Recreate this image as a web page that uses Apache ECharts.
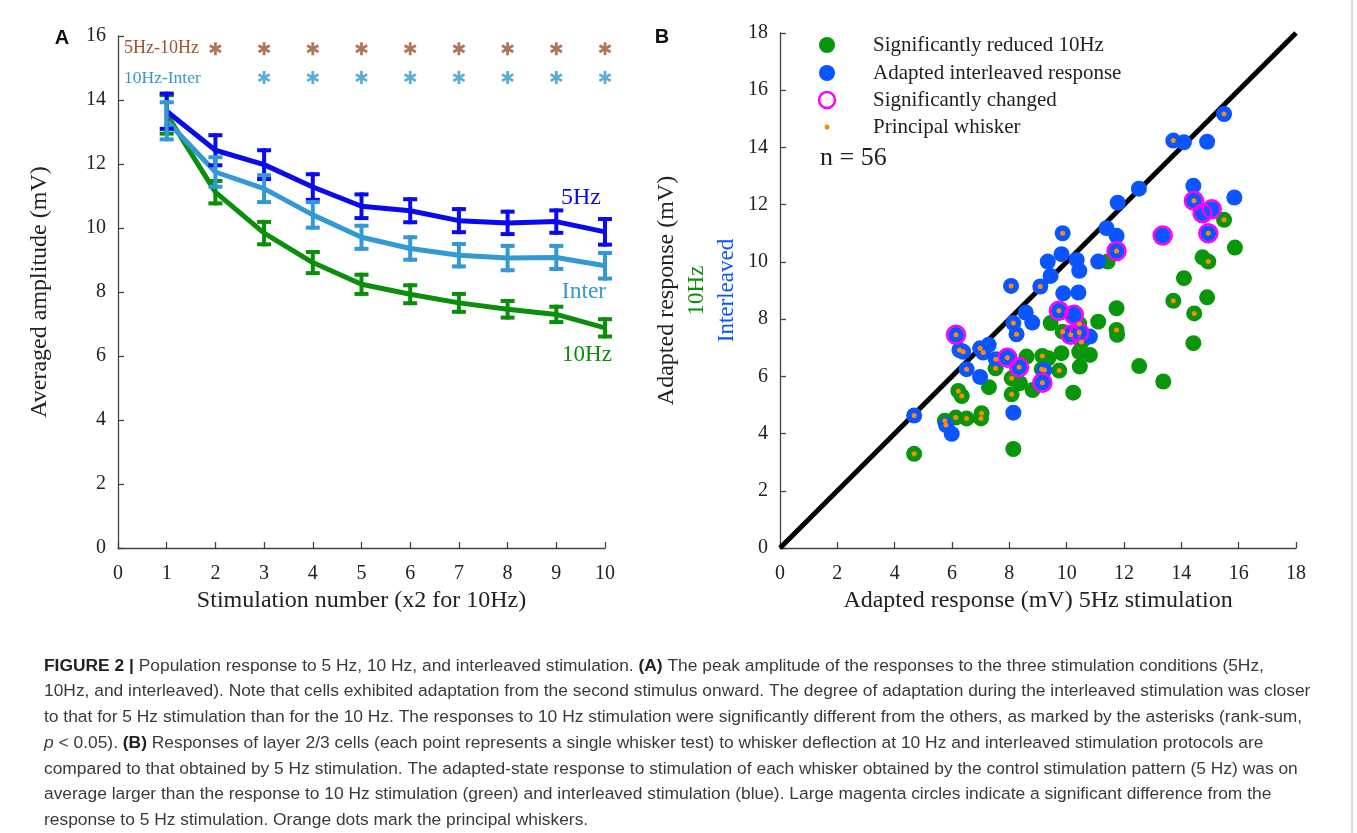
<!DOCTYPE html>
<html>
<head>
<meta charset="utf-8">
<script src="https://cdn.jsdelivr.net/npm/echarts@6/dist/echarts.min.js"></script>
<style>
  html, body { margin: 0; padding: 0; background: #fff; }
  #chart { width: 1357px; height: 833px; }
</style>
</head>
<body>
<div id="chart"></div>
<script>
// panel A: averaged amplitude per stimulus
const stimNumbers = [1, 2, 3, 4, 5, 6, 7, 8, 9, 10]
const amp5Hz = [13.65, 12.43, 11.98, 11.28, 10.68, 10.54, 10.23, 10.16, 10.2, 9.88]
const err5Hz = [0.55, 0.47, 0.45, 0.4, 0.37, 0.36, 0.36, 0.35, 0.35, 0.4]
const ampInter = [13.35, 11.75, 11.23, 10.41, 9.71, 9.36, 9.15, 9.06, 9.08, 8.82]
const errInter = [0.58, 0.46, 0.42, 0.4, 0.36, 0.35, 0.35, 0.38, 0.36, 0.4]
const amp10Hz = [13.55, 11.12, 9.84, 8.92, 8.24, 7.93, 7.66, 7.46, 7.3, 6.88]
const err10Hz = [0.6, 0.35, 0.35, 0.33, 0.3, 0.28, 0.28, 0.26, 0.24, 0.27]
// significance asterisks (stimulus numbers)
const sig5vs10 = [2, 3, 4, 5, 6, 7, 8, 9, 10]
const sig10vsInter = [3, 4, 5, 6, 7, 8, 9, 10]

// panel B: [5Hz response, 10Hz response, principal]
const reduced10Hz = [
  [4.68, 3.29, 1], [5.75, 4.45, 1], [6.13, 4.56, 1], [6.51, 4.53, 1], [7.03, 4.71, 1],
  [7.01, 4.53, 1], [6.22, 5.49, 1], [6.34, 5.31, 1], [7.29, 5.62, 0], [7.52, 6.28, 1],
  [8.14, 3.46, 0], [8.08, 5.93, 1], [8.37, 5.76, 0], [8.81, 5.52, 0], [8.08, 5.37, 1],
  [8.6, 6.69, 0], [9.15, 6.71, 1], [9.36, 6.63, 0], [9.82, 6.81, 0], [9.74, 6.2, 1],
  [9.13, 6.25, 1], [10.44, 6.86, 0], [10.81, 6.75, 0], [10.46, 6.34, 0], [10.23, 5.43, 0],
  [9.44, 7.86, 0], [9.86, 7.56, 1], [10.44, 7.83, 1], [11.1, 7.91, 0], [11.74, 8.38, 0],
  [11.74, 7.62, 1], [11.76, 7.45, 0], [11.43, 10.01, 0], [12.53, 6.36, 0], [13.37, 5.82, 0],
  [13.72, 8.64, 1], [14.09, 9.43, 0], [14.9, 8.76, 0], [14.45, 8.2, 1], [14.42, 7.16, 0],
  [14.74, 10.16, 0], [14.94, 10.01, 1], [15.49, 11.47, 1], [15.87, 10.5, 0], [10.52, 7.2, 1]
]
// [5Hz response, interleaved response, principal, significantly changed]
const interleavedResp = [
  [4.68, 4.63, 1, 0], [5.79, 4.3, 1, 0], [5.99, 3.99, 0, 0], [6.14, 7.45, 1, 1], [6.26, 6.92, 1, 0],
  [6.39, 6.86, 1, 0], [6.51, 6.25, 1, 0], [6.98, 6.98, 1, 0], [7.28, 7.1, 0, 0], [7.09, 6.83, 1, 0],
  [6.98, 5.98, 0, 0], [7.53, 6.6, 1, 0], [7.93, 6.65, 1, 1], [8.34, 6.32, 1, 1], [8.14, 4.73, 0, 0],
  [8.06, 9.16, 1, 0], [8.14, 7.86, 1, 0], [8.25, 7.47, 1, 0], [8.57, 8.23, 0, 0], [8.8, 7.88, 0, 0],
  [9.08, 9.14, 1, 0], [9.88, 8.9, 0, 0], [10.41, 8.93, 0, 0], [9.73, 8.29, 1, 1], [10.25, 8.15, 0, 1],
  [9.22, 6.22, 1, 0], [9.15, 5.78, 1, 1], [10.14, 7.45, 1, 1], [10.44, 7.53, 1, 1], [10.81, 7.39, 0, 0],
  [9.44, 9.51, 0, 0], [9.34, 10.01, 0, 0], [9.82, 10.27, 0, 0], [9.86, 11.0, 1, 0], [10.35, 10.07, 0, 0],
  [10.44, 9.69, 0, 0], [11.1, 10.01, 0, 0], [11.39, 11.18, 0, 0], [11.74, 10.91, 0, 0], [11.74, 10.38, 1, 1],
  [11.78, 12.07, 0, 0], [12.52, 12.56, 0, 0], [13.35, 10.92, 0, 1], [13.72, 14.24, 1, 0], [14.09, 14.18, 0, 0],
  [14.9, 14.2, 0, 0], [15.49, 15.17, 1, 0], [14.42, 12.66, 0, 0], [15.85, 12.25, 0, 0], [14.44, 12.14, 1, 1],
  [14.74, 11.7, 0, 1], [15.06, 11.84, 0, 1], [14.94, 11.0, 1, 1]
]
const identityLine = [[0, 0], [18, 18]]

const serif = 'Liberation Serif'
const c5Hz = '#0a0aee', cInter = '#3399d4', c10Hz = '#0a8f0a'
const cGreen = '#0a960a', cBlue = '#0a55ff', cRing = '#ff00ff', cOrange = '#ff8c00'
const brown = '#a0522d', starBlue = '#3399cc'

const chart = echarts.init(document.getElementById('chart'))

// 误差棒
function errorBars(means, errs, color) {
  return {
    type: 'custom', xAxisIndex: 0, yAxisIndex: 0, z: 4,
    data: stimNumbers.map((x, i) => [x, means[i], errs[i]]),
    encode: { x: 0, y: 1 },
    renderItem(params, api) {
      const x = api.value(0), m = api.value(1), e = api.value(2)
      const hi = api.coord([x, m + e]), lo = api.coord([x, m - e])
      const w = 7
      const st = () => ({ stroke: color, lineWidth: 4 })
      return {
        type: 'group', children: [
          { type: 'line', shape: { x1: hi[0], y1: hi[1] - 2, x2: lo[0], y2: lo[1] + 2 }, style: st() },
          { type: 'line', shape: { x1: hi[0] - w, y1: hi[1], x2: hi[0] + w, y2: hi[1] }, style: st() },
          { type: 'line', shape: { x1: lo[0] - w, y1: lo[1], x2: lo[0] + w, y2: lo[1] }, style: st() }
        ]
      }
    }
  }
}

function meanLine(means, color) {
  return {
    type: 'line', xAxisIndex: 0, yAxisIndex: 0, z: 3,
    data: stimNumbers.map((x, i) => [x, means[i]]),
    showSymbol: false, symbol: 'none',
    lineStyle: { color, width: 5 }
  }
}

const asterisk = 'path://M10,0 L10,20 M1.34,5 L18.66,15 M1.34,15 L18.66,5'
function stars(xs, level, color) {
  return {
    type: 'scatter', xAxisIndex: 0, yAxisIndex: 0,
    data: xs.map(x => [x, level]),
    symbol: asterisk, symbolSize: 13, symbolKeepAspect: true,
    itemStyle: { color: 'transparent', borderColor: color, borderWidth: 2.8 }
  }
}

const axisCommon = {
  axisLine: { lineStyle: { color: '#444', width: 1.3 } },
  axisTick: { inside: true, length: 6, lineStyle: { color: '#444', width: 1.3 } },
  splitLine: { show: false },
  axisLabel: { fontFamily: serif, fontSize: 20, color: '#222' }
}
const nameStyle = { fontFamily: serif, fontSize: 24, color: '#222' }

const legendRows = [
  { y: 45, text: 'Significantly reduced 10Hz' },
  { y: 73, text: 'Adapted interleaved response' },
  { y: 100, text: 'Significantly changed' },
  { y: 127, text: 'Principal whisker' }
]

const captionLines = [
  '{b|FIGURE 2 |} Population response to 5 Hz, 10 Hz, and interleaved stimulation. {b|(A)} The peak amplitude of the responses to the three stimulation conditions (5Hz,',
  '10Hz, and interleaved). Note that cells exhibited adaptation from the second stimulus onward. The degree of adaptation during the interleaved stimulation was closer',
  'to that for 5 Hz stimulation than for the 10 Hz. The responses to 10 Hz stimulation were significantly different from the others, as marked by the asterisks (rank-sum,',
  '{i|p} < 0.05). {b|(B)} Responses of layer 2/3 cells (each point represents a single whisker test) to whisker deflection at 10 Hz and interleaved stimulation protocols are',
  'compared to that obtained by 5 Hz stimulation. The adapted-state response to stimulation of each whisker obtained by the control stimulation pattern (5 Hz) was on',
  'average larger than the response to 10 Hz stimulation (green) and interleaved stimulation (blue). Large magenta circles indicate a significant difference from the',
  'response to 5 Hz stimulation. Orange dots mark the principal whiskers.'
]
const capSize = 17.4

const graphics = [
  { type: 'text', x: 62, y: 38, style: { text: 'A', font: 'bold 20px "Liberation Sans"', fill: '#111', textAlign: 'center', textVerticalAlign: 'middle' } },
  { type: 'text', x: 662, y: 37, style: { text: 'B', font: 'bold 20px "Liberation Sans"', fill: '#111', textAlign: 'center', textVerticalAlign: 'middle' } },
  { type: 'text', x: 124, y: 48, style: { text: '5Hz-10Hz', font: '18px ' + serif, fill: brown, textVerticalAlign: 'middle' } },
  { type: 'text', x: 124, y: 78, style: { text: '10Hz-Inter', font: '17.5px ' + serif, fill: starBlue, textVerticalAlign: 'middle' } },
  { type: 'text', x: 581, y: 198, style: { text: '5Hz', font: '24px ' + serif, fill: c5Hz, textAlign: 'center', textVerticalAlign: 'middle' } },
  { type: 'text', x: 584, y: 292, style: { text: 'Inter', font: '23.5px ' + serif, fill: cInter, textAlign: 'center', textVerticalAlign: 'middle' } },
  { type: 'text', x: 587, y: 355, style: { text: '10Hz', font: '23px ' + serif, fill: c10Hz, textAlign: 'center', textVerticalAlign: 'middle' } },
  // legend of panel B
  { type: 'circle', shape: { cx: 827, cy: 45, r: 8 }, style: { fill: cGreen } },
  { type: 'circle', shape: { cx: 827, cy: 73, r: 8 }, style: { fill: cBlue } },
  { type: 'circle', shape: { cx: 827, cy: 100, r: 8 }, style: { fill: 'none', stroke: cRing, lineWidth: 2.5 } },
  { type: 'circle', shape: { cx: 827, cy: 127, r: 2.5 }, style: { fill: cOrange } },
  ...legendRows.map(r => ({
    type: 'text', x: 873, y: r.y,
    style: { text: r.text, font: '21px ' + serif, fill: '#222', textVerticalAlign: 'middle' }
  })),
  { type: 'text', x: 820, y: 158, style: { text: 'n = 56', font: '26px ' + serif, fill: '#222', textVerticalAlign: 'middle' } },
  { type: 'line', shape: { x1: 1352, y1: 0, x2: 1352, y2: 833 }, style: { stroke: '#bbb', lineWidth: 1 } },
  ...captionLines.map((t, i) => ({
    type: 'text', x: 44, y: 666 + i * 25.7,
    style: {
      text: t, font: capSize + 'px "Liberation Sans"', fill: '#3a3a3a', textVerticalAlign: 'middle',
      rich: {
        b: { font: 'bold ' + capSize + 'px "Liberation Sans"', fill: '#222' },
        i: { font: 'italic ' + capSize + 'px "Liberation Sans"', fill: '#3a3a3a' }
      }
    }
  }))
]

const option = {
  backgroundColor: '#fff',
  animation: false,
  grid: [
    { left: 118, top: 36, width: 487, height: 512 },
    { left: 780, top: 33, width: 516, height: 515 }
  ],
  xAxis: [
    Object.assign({}, axisCommon, {
      type: 'value', gridIndex: 0, min: 0, max: 10, interval: 1,
      name: 'Stimulation number (x2 for 10Hz)', nameLocation: 'middle', nameGap: 41,
      nameTextStyle: nameStyle,
      axisLabel: Object.assign({}, axisCommon.axisLabel, { margin: 16 })
    }),
    Object.assign({}, axisCommon, {
      type: 'value', gridIndex: 1, min: 0, max: 18, interval: 2,
      name: 'Adapted response (mV) 5Hz stimulation', nameLocation: 'middle', nameGap: 41,
      nameTextStyle: nameStyle,
      axisLabel: Object.assign({}, axisCommon.axisLabel, { margin: 16 })
    })
  ],
  yAxis: [
    Object.assign({}, axisCommon, {
      type: 'value', gridIndex: 0, min: 0, max: 16, interval: 2,
      name: 'Averaged amplitude (mV)', nameLocation: 'middle', nameGap: 66,
      nameTextStyle: nameStyle,
      axisLabel: Object.assign({}, axisCommon.axisLabel, { margin: 12 })
    }),
    Object.assign({}, axisCommon, {
      type: 'value', gridIndex: 1, min: 0, max: 18, interval: 2,
      name: 'Adapted response (mV)\n{g|10Hz}\n{b|Interleaved}', nameLocation: 'middle', nameGap: 38,
      nameTextStyle: {
        fontFamily: serif, fontSize: 24, color: '#222', lineHeight: 30,
        rich: {
          g: { fontFamily: serif, fontSize: 23, color: c10Hz, lineHeight: 30 },
          b: { fontFamily: serif, fontSize: 23, color: cBlue, lineHeight: 30 }
        }
      },
      axisLabel: Object.assign({}, axisCommon.axisLabel, { margin: 12 })
    })
  ],
  series: [
    meanLine(amp10Hz, c10Hz),
    meanLine(ampInter, cInter),
    meanLine(amp5Hz, c5Hz),
    errorBars(amp10Hz, err10Hz, c10Hz),
    errorBars(amp5Hz, err5Hz, c5Hz),
    errorBars(ampInter, errInter, cInter),
    stars(sig5vs10, 15.6, brown),
    stars(sig10vsInter, 14.7, starBlue),
    {
      type: 'line', xAxisIndex: 1, yAxisIndex: 1, data: identityLine,
      showSymbol: false, symbol: 'none', lineStyle: { color: '#000', width: 5 }, z: 1
    },
    {
      type: 'scatter', xAxisIndex: 1, yAxisIndex: 1, z: 2,
      data: reduced10Hz.map(d => [d[0], d[1]]), symbolSize: 16,
      itemStyle: { color: cGreen, opacity: 1 }
    },
    {
      type: 'scatter', xAxisIndex: 1, yAxisIndex: 1, z: 3,
      data: interleavedResp.map(d => [d[0], d[1]]), symbolSize: 16,
      itemStyle: { color: cBlue, opacity: 1 }
    },
    {
      type: 'scatter', xAxisIndex: 1, yAxisIndex: 1, z: 4,
      data: interleavedResp.filter(d => d[3]).map(d => [d[0], d[1]]),
      symbol: 'circle', symbolSize: 18,
      itemStyle: { color: 'transparent', borderColor: cRing, borderWidth: 2.5, opacity: 1 }
    },
    {
      type: 'scatter', xAxisIndex: 1, yAxisIndex: 1, z: 5,
      data: reduced10Hz.filter(d => d[2]).map(d => [d[0], d[1]])
        .concat(interleavedResp.filter(d => d[2]).map(d => [d[0], d[1]])),
      symbolSize: 5, itemStyle: { color: cOrange, opacity: 1 }
    }
  ],
  graphic: graphics
}

chart.setOption(option)
</script>
</body>
</html>
